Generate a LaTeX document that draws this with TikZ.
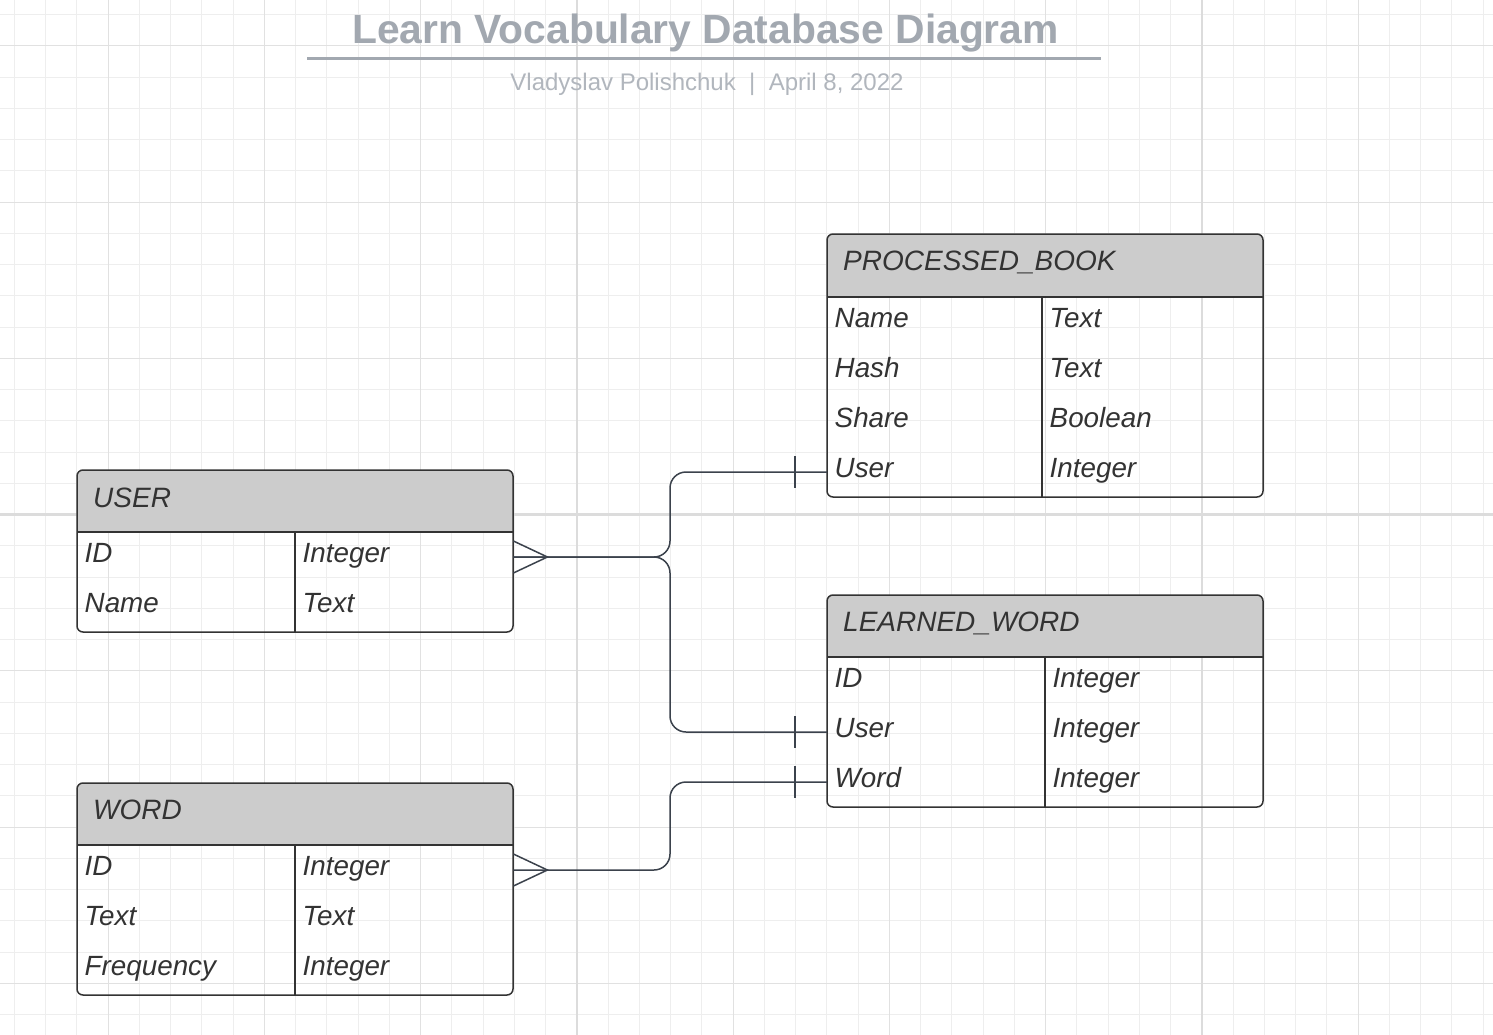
\documentclass[tikz,border=0pt]{standalone}
\usepackage{fontspec}
\setmainfont{Liberation Sans}
\usepackage{xcolor}
\usepackage{tikz}
\usetikzlibrary{positioning}

\definecolor{gridminor}{HTML}{EEEEEE}
\definecolor{gridmid}{HTML}{E1E1E1}
\definecolor{gridmajor}{HTML}{DCDCDC}
\definecolor{titlegray}{HTML}{A2A8B0}
\definecolor{subgray}{HTML}{B1B6BD}
\definecolor{hdrgray}{HTML}{CCCCCC}
\definecolor{ink}{HTML}{333333}
\definecolor{linkc}{HTML}{3B424C}

\begin{document}
\begin{tikzpicture}
[x=1pt, y=-1pt,
cell/.style={rectangle, inner xsep=7.5pt, inner ysep=0pt, text width=#1, minimum height=50pt, text height=20pt, text depth=8.6pt, anchor=west, text=ink, font=\fontsize{27.8}{33}\selectfont\itshape},
head/.style={anchor=base west, inner sep=0pt, text=ink, font=\fontsize{28}{33}\selectfont\itshape},
box/.style={draw=ink, line width=1.5pt, rounded corners=6pt},
hdr/.style={fill=hdrgray},
link/.style={draw=linkc, line width=1.5pt}];
\useasboundingbox (0,0) rectangle (1493,1035);
\fill[white] (0,0) rectangle (1493,1035);

\foreach \k in {0,...,47} \draw[gridminor, line width=1pt] ({14.3+31.25*\k},0) -- ++(0,1035);
\foreach \k in {0,...,32} \draw[gridminor, line width=1pt] (0,{14.7+31.25*\k}) -- ++(1493,0);
\foreach \k in {3,8,...,43} \draw[gridmid, line width=1pt] ({14.3+31.25*\k},0) -- ++(0,1035);
\foreach \k in {1,6,...,31} \draw[gridmid, line width=1pt] (0,{14.7+31.25*\k}) -- ++(1493,0);
\foreach \k in {18,38} \draw[gridmajor, line width=2.5pt] ({14.3+31.25*\k},0) -- ++(0,1035);
\draw[gridmajor, line width=2.5pt] (0,{14.7+31.25*16}) -- ++(1493,0);

\node[anchor=base, inner sep=0pt, text=titlegray, font=\fontsize{40.8}{48}\selectfont\bfseries] (title) at (705.5,43.3) {Learn Vocabulary Database Diagram};
\draw[titlegray, line width=3.3pt] (307,58.7) -- (1101,58.7);
\node[anchor=base, inner sep=0pt, text=subgray, font=\fontsize{24}{29}\selectfont] (byline) at (707,90.7) {Vladyslav Polishchuk\ \ |\ \ April 8, 2022};

% USER
\fill[hdr] (77,532) [rounded corners=6pt] -- (77,470) -- (513,470) [sharp corners] -- (513,532) -- cycle;
\node[head] (user) at (93,507) {USER};
\node[cell=203pt] (user-id) at (77,557) {ID};
\node[cell=203pt] (user-id-t) at (295,557) {Integer};
\node[cell=203pt] (user-name) at (77,607) {Name};
\node[cell=203pt] (user-name-t) at (295,607) {Text};
\draw[box] (77,470) rectangle (513,632);
\draw[box] (77,532) -- (513,532) (295,532) -- (295,632);

% WORD
\fill[hdr] (77,845) [rounded corners=6pt] -- (77,783) -- (513,783) [sharp corners] -- (513,845) -- cycle;
\node[head] (word) at (93,819) {WORD};
\node[cell=203pt] (word-id) at (77,870) {ID};
\node[cell=203pt] (word-id-t) at (295,870) {Integer};
\node[cell=203pt] (word-text) at (77,920) {Text};
\node[cell=203pt] (word-text-t) at (295,920) {Text};
\node[cell=203pt] (word-freq) at (77,970) {Frequency};
\node[cell=203pt] (word-freq-t) at (295,970) {Integer};
\draw[box] (77,783) rectangle (513,995);
\draw[box] (77,845) -- (513,845) (295,845) -- (295,995);

% PROCESSED_BOOK
\fill[hdr] (827,297) [rounded corners=6pt] -- (827,234) -- (1263,234) [sharp corners] -- (1263,297) -- cycle;
\node[head] (book) at (843,270) {PROCESSED\_BOOK};
\node[cell=200pt] (book-name) at (827,322) {Name};
\node[cell=206pt] (book-name-t) at (1042,322) {Text};
\node[cell=200pt] (book-hash) at (827,372) {Hash};
\node[cell=206pt] (book-hash-t) at (1042,372) {Text};
\node[cell=200pt] (book-share) at (827,422) {Share};
\node[cell=206pt] (book-share-t) at (1042,422) {Boolean};
\node[cell=200pt] (book-user) at (827,472) {User};
\node[cell=206pt] (book-user-t) at (1042,472) {Integer};
\draw[box] (827,234) rectangle (1263,497);
\draw[box] (827,297) -- (1263,297) (1042,297) -- (1042,497);

% LEARNED_WORD
\fill[hdr] (827,657) [rounded corners=6pt] -- (827,595) -- (1263,595) [sharp corners] -- (1263,657) -- cycle;
\node[head] (learned) at (843,631) {LEARNED\_WORD};
\node[cell=203pt] (learned-id) at (827,682) {ID};
\node[cell=203pt] (learned-id-t) at (1045,682) {Integer};
\node[cell=203pt] (learned-user) at (827,732) {User};
\node[cell=203pt] (learned-user-t) at (1045,732) {Integer};
\node[cell=203pt] (learned-word) at (827,782) {Word};
\node[cell=203pt] (learned-word-t) at (1045,782) {Integer};
\draw[box] (827,595) rectangle (1263,807);
\draw[box] (827,657) -- (1263,657) (1045,657) -- (1045,807);

% relations
\coordinate (bus) at (670,0);
\draw[link, rounded corners=16pt] (user-id-t.east) -| (bus |- book-user.west) -- (book-user.west);
\draw[link, rounded corners=16pt] (user-id-t.east) -| (bus |- learned-user.west) -- (learned-user.west);
\draw[link, rounded corners=16pt] (word-id-t.east) -| (bus |- learned-word.west) -- (learned-word.west);

\draw[link] ([yshift=16pt]user-id-t.east) -- ([xshift=34pt]user-id-t.east) -- ([yshift=-16pt]user-id-t.east);
\draw[link] ([yshift=16pt]word-id-t.east) -- ([xshift=34pt]word-id-t.east) -- ([yshift=-16pt]word-id-t.east);
\draw[link] ([xshift=-32pt, yshift=16pt]book-user.west) -- ([xshift=-32pt, yshift=-16pt]book-user.west);
\draw[link] ([xshift=-32pt, yshift=16pt]learned-user.west) -- ([xshift=-32pt, yshift=-16pt]learned-user.west);
\draw[link] ([xshift=-32pt, yshift=16pt]learned-word.west) -- ([xshift=-32pt, yshift=-16pt]learned-word.west);
\end{tikzpicture}
\end{document}
